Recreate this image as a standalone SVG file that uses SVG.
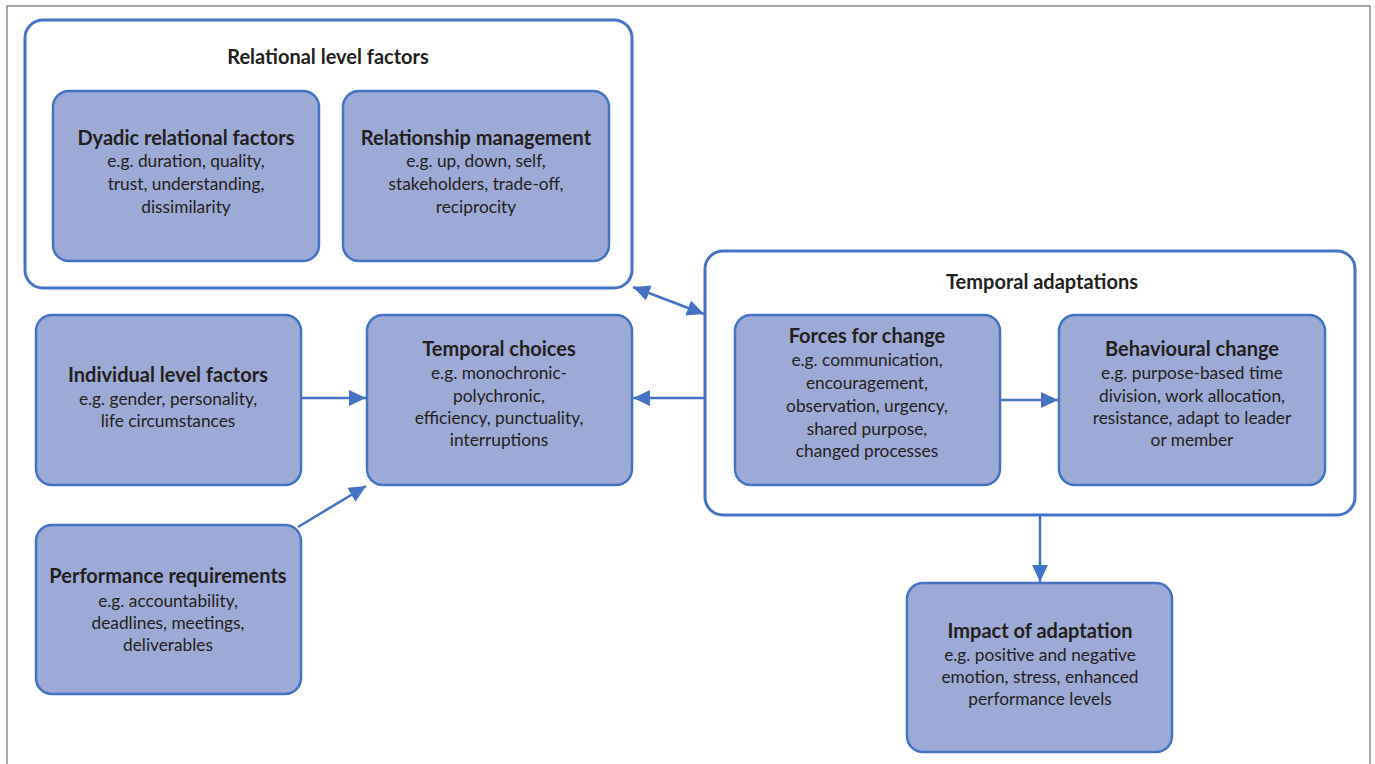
<svg xmlns="http://www.w3.org/2000/svg" width="1375" height="764" viewBox="0 0 1375 764">
<style>
.frame{fill:none;stroke:#8a8a8a;stroke-width:1.5}
.group{fill:#ffffff;stroke:#4472C4;stroke-width:3}
.box{fill:#9DAAD6;stroke:#4472C4;stroke-width:2.5}
.conn{stroke:#4472C4;stroke-width:2.5;fill:none}
text{font-family:Lato,"Liberation Sans",sans-serif;fill:#231F20;text-anchor:middle}
.t{font-weight:bold;font-size:20px}
.b{font-size:17.3px}
</style>
<defs>
<marker id="ah" markerUnits="userSpaceOnUse" markerWidth="18" markerHeight="16" refX="17" refY="8" orient="auto-start-reverse">
<path d="M0,0 L17,8 L0,16 Z" fill="#4472C4"/>
</marker>
</defs>
<path class="frame" d="M7,764 V6 H1370 V764"/>
<g id="relational">
<rect class="group" x="25" y="20" width="607" height="268" rx="18"/>
<text class="t" x="328" y="64">Relational level factors</text>
</g>
<g id="dyadic">
<rect class="box" x="53" y="91" width="266" height="170" rx="16"/>
<text class="t" x="186" y="145">Dyadic relational factors</text>
<text class="b" x="186" y="167">e.g. duration, quality,</text>
<text class="b" x="186" y="190">trust, understanding,</text>
<text class="b" x="186" y="213">dissimilarity</text>
</g>
<g id="relmgmt">
<rect class="box" x="343" y="91" width="266" height="170" rx="16"/>
<text class="t" x="476" y="145">Relationship management</text>
<text class="b" x="476" y="167">e.g. up, down, self,</text>
<text class="b" x="476" y="190">stakeholders, trade-off,</text>
<text class="b" x="476" y="213">reciprocity</text>
</g>
<g id="temporaladapt">
<rect class="group" x="705" y="251" width="650" height="264" rx="18"/>
<text class="t" x="1042" y="289">Temporal adaptations</text>
</g>
<g id="forces">
<rect class="box" x="735" y="315" width="265" height="170" rx="16"/>
<text class="t" x="867" y="343">Forces for change</text>
<text class="b" x="867" y="366">e.g. communication,</text>
<text class="b" x="867" y="389">encouragement,</text>
<text class="b" x="867" y="412">observation, urgency,</text>
<text class="b" x="867" y="435">shared purpose,</text>
<text class="b" x="867" y="457">changed processes</text>
</g>
<g id="behavioural">
<rect class="box" x="1059" y="315" width="266" height="170" rx="16"/>
<text class="t" x="1192" y="356">Behavioural change</text>
<text class="b" x="1192" y="379">e.g. purpose-based time</text>
<text class="b" x="1192" y="402">division, work allocation,</text>
<text class="b" x="1192" y="424">resistance, adapt to leader</text>
<text class="b" x="1192" y="446">or member</text>
</g>
<g id="individual">
<rect class="box" x="36" y="315" width="265" height="170" rx="16"/>
<text class="t" x="168" y="382">Individual level factors</text>
<text class="b" x="168" y="405">e.g. gender, personality,</text>
<text class="b" x="168" y="427">life circumstances</text>
</g>
<g id="choices">
<rect class="box" x="367" y="315" width="265" height="170" rx="16"/>
<text class="t" x="499" y="356">Temporal choices</text>
<text class="b" x="499" y="379">e.g. monochronic-</text>
<text class="b" x="499" y="402">polychronic,</text>
<text class="b" x="499" y="424">efficiency, punctuality,</text>
<text class="b" x="499" y="446">interruptions</text>
</g>
<g id="performance">
<rect class="box" x="36" y="525" width="265" height="169" rx="16"/>
<text class="t" x="168" y="583">Performance requirements</text>
<text class="b" x="168" y="607">e.g. accountability,</text>
<text class="b" x="168" y="629">deadlines, meetings,</text>
<text class="b" x="168" y="651">deliverables</text>
</g>
<g id="impact">
<rect class="box" x="907" y="583" width="265" height="169" rx="16"/>
<text class="t" x="1040" y="638">Impact of adaptation</text>
<text class="b" x="1040" y="661">e.g. positive and negative</text>
<text class="b" x="1040" y="683">emotion, stress, enhanced</text>
<text class="b" x="1040" y="705">performance levels</text>
</g>
<g id="connectors">
<line class="conn" x1="301" y1="398" x2="366" y2="398" marker-end="url(#ah)"/>
<line class="conn" x1="298" y1="527" x2="366" y2="486" marker-end="url(#ah)"/>
<line class="conn" x1="705" y1="398" x2="633" y2="398" marker-end="url(#ah)"/>
<line class="conn" x1="633" y1="287" x2="704" y2="314" marker-start="url(#ah)" marker-end="url(#ah)"/>
<line class="conn" x1="1000" y1="400" x2="1058" y2="400" marker-end="url(#ah)"/>
<line class="conn" x1="1040" y1="515" x2="1040" y2="582" marker-end="url(#ah)"/>
</g>
</svg>
